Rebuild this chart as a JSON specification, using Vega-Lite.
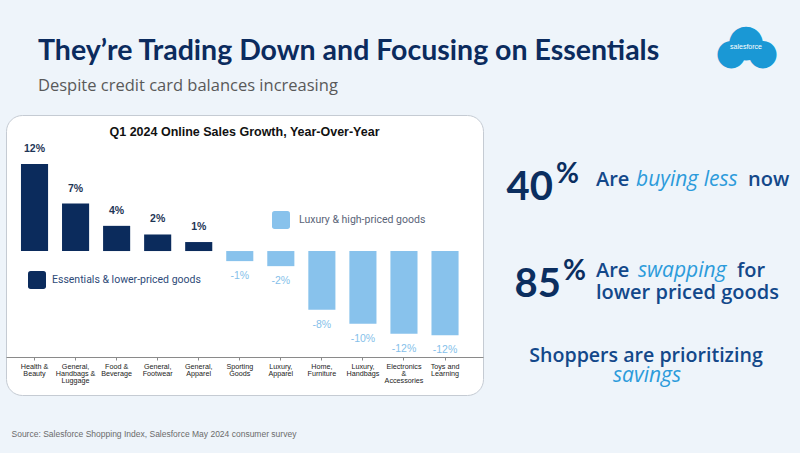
{
  "$schema": "https://vega.github.io/schema/vega-lite/v6.json",
  "background": "#EEF4FA",
  "padding": {"left": 5, "top": 20, "right": 0, "bottom": 0},
  "autosize": {"type": "pad"},
  "bounds": "flush",
  "spacing": 0,
  "datasets": {
    "growth": [
      {"category": "Health & Beauty", "group": "Essentials & lower-priced goods", "growth": 12.1, "label": "12%"},
      {"category": "General, Handbags & Luggage", "group": "Essentials & lower-priced goods", "growth": 6.6, "label": "7%"},
      {"category": "Food & Beverage", "group": "Essentials & lower-priced goods", "growth": 3.5, "label": "4%"},
      {"category": "General, Footwear", "group": "Essentials & lower-priced goods", "growth": 2.3, "label": "2%"},
      {"category": "General, Apparel", "group": "Essentials & lower-priced goods", "growth": 1.25, "label": "1%"},
      {"category": "Sporting Goods", "group": "Luxury & high-priced goods", "growth": -1.4, "label": "-1%"},
      {"category": "Luxury, Apparel", "group": "Luxury & high-priced goods", "growth": -2.1, "label": "-2%"},
      {"category": "Home, Furniture", "group": "Luxury & high-priced goods", "growth": -8.15, "label": "-8%"},
      {"category": "Luxury, Handbags", "group": "Luxury & high-priced goods", "growth": -10.1, "label": "-10%"},
      {"category": "Electronics & Accessories", "group": "Luxury & high-priced goods", "growth": -11.5, "label": "-12%"},
      {"category": "Toys and Learning", "group": "Luxury & high-priced goods", "growth": -11.7, "label": "-12%"}
    ],
    "callouts": [
      {"id": "heading", "text": "They’re Trading Down and Focusing on Essentials"},
      {"id": "subheading", "text": "Despite credit card balances increasing"},
      {"id": "cloudA", "text": "●●"},
      {"id": "cloudB", "text": "●"},
      {"id": "brand", "text": "salesforce"},
      {"id": "n1", "text": "40"},
      {"id": "p1", "text": "%"},
      {"id": "a1", "text": "Are"},
      {"id": "e1", "text": "buying less"},
      {"id": "t1", "text": "now"},
      {"id": "n2", "text": "85"},
      {"id": "p2", "text": "%"},
      {"id": "a2", "text": "Are"},
      {"id": "e2", "text": "swapping"},
      {"id": "t2", "text": "for"},
      {"id": "l2", "text": "lower priced goods"},
      {"id": "s3", "text": "Shoppers are prioritizing"},
      {"id": "e3", "text": "savings"}
    ]
  },
  "hconcat": [
    {
      "width": 477,
      "height": 280,
      "view": {"fill": "white", "stroke": "#C5CBD3", "strokeWidth": 1, "cornerRadius": 16},
      "title": {
        "text": "Q1 2024 Online Sales Growth, Year-Over-Year",
        "font": "Liberation Sans",
        "fontSize": 12.5,
        "fontWeight": "bold",
        "color": "#111111",
        "anchor": "middle",
        "offset": -29,
        "baseline": "middle"
      },
      "data": {"name": "growth"},
      "encoding": {
        "x": {
          "field": "category",
          "type": "nominal",
          "sort": null,
          "scale": {"paddingInner": 0.34, "paddingOuter": 0.48, "align": 0.38},
          "axis": {
            "orient": "bottom",
            "offset": -38,
            "domainColor": "#8A8A8A",
            "tickColor": "#8A8A8A",
            "tickSize": 3,
            "labelPadding": 2,
            "labelAngle": 0,
            "labelFont": "Liberation Sans",
            "labelFontSize": 7.2,
            "labelColor": "#222222",
            "labelLineHeight": 7,
            "labelOverlap": false,
            "labelExpr": "split(replace(replace(replace(replace(replace(datum.label, /, /g, ',|'), / & /g, ' &|'), /^Electronics &/, 'Electronics|&'), /^Sporting /, 'Sporting|'), /and /, 'and|'), '|')",
            "title": "Source: Salesforce Shopping Index, Salesforce May 2024 consumer survey",
            "titleFont": "Liberation Sans",
            "titleFontSize": 8.5,
            "titleFontWeight": "normal",
            "titleColor": "#6B6B6B",
            "titleAnchor": "start",
            "titleAlign": "left",
            "titleX": 5,
            "titleY": 76,
            "titleBaseline": "middle"
          }
        },
        "y": {
          "field": "growth",
          "type": "quantitative",
          "scale": {"domain": [-20, 18.9], "nice": false},
          "axis": null
        }
      },
      "layer": [
        {
          "transform": [{"filter": "datum.group === 'Essentials & lower-priced goods'"}],
          "mark": {"type": "bar"},
          "encoding": {
            "color": {
              "field": "group",
              "type": "nominal",
              "scale": {"domain": ["Essentials & lower-priced goods"], "range": ["#0B2B5C"]},
              "legend": {
                "title": null,
                "orient": "none",
                "legendX": 22,
                "legendY": 156,
                "padding": 0,
                "symbolType": "M -0.7 -1 L 0.7 -1 Q 1 -1 1 -0.7 L 1 0.7 Q 1 1 0.7 1 L -0.7 1 Q -1 1 -1 0.7 L -1 -0.7 Q -1 -1 -0.7 -1 Z",
                "symbolSize": 324,
                "symbolStrokeWidth": 0,
                "symbolOpacity": 1,
                "labelFont": "Roboto",
                "labelFontSize": 10.5,
                "labelLimit": 300,
                "labelColor": "#2E4A78",
                "labelOffset": 6
              }
            }
          }
        },
        {
          "transform": [{"filter": "datum.group === 'Luxury & high-priced goods'"}],
          "mark": {"type": "bar"},
          "encoding": {
            "color": {
              "field": "group",
              "type": "nominal",
              "scale": {"domain": ["Luxury & high-priced goods"], "range": ["#88C2EC"]},
              "legend": {
                "title": null,
                "orient": "none",
                "legendX": 266,
                "legendY": 96,
                "padding": 0,
                "symbolType": "M -0.7 -1 L 0.7 -1 Q 1 -1 1 -0.7 L 1 0.7 Q 1 1 0.7 1 L -0.7 1 Q -1 1 -1 0.7 L -1 -0.7 Q -1 -1 -0.7 -1 Z",
                "symbolSize": 324,
                "symbolStrokeWidth": 0,
                "symbolOpacity": 1,
                "labelFont": "Roboto",
                "labelFontSize": 10.5,
                "labelLimit": 300,
                "labelColor": "#5A6478",
                "labelOffset": 9
              }
            }
          }
        },
        {
          "transform": [{"filter": "datum.growth > 0"}],
          "mark": {"type": "text", "font": "Liberation Sans", "fontSize": 10.5, "fontWeight": "bold", "color": "#1E3556", "baseline": "middle", "dy": -15},
          "encoding": {"text": {"field": "label"}}
        },
        {
          "transform": [{"filter": "datum.growth < 0"}],
          "mark": {"type": "text", "font": "Liberation Sans", "fontSize": 10.5, "color": "#86BFEA", "baseline": "middle", "dy": 15},
          "encoding": {"text": {"field": "label"}}
        }
      ],
      "resolve": {"scale": {"color": "independent"}}
    },
    {
      "width": 318,
      "height": 338,
      "view": {"fill": null, "stroke": null},
      "data": {"name": "callouts"},
      "layer": [
        {
          "transform": [{"filter": "datum.id === 'heading'"}],
          "mark": {"type": "text", "font": "Lato", "fontSize": 28.5, "fontWeight": "bold", "color": "#0B2B5E", "align": "left", "baseline": "alphabetic", "dx": -604, "dy": -224},
          "encoding": {"text": {"field": "text"}}
        },
        {
          "transform": [{"filter": "datum.id === 'subheading'"}],
          "mark": {"type": "text", "font": "Open Sans", "fontSize": 16.5, "color": "#595959", "align": "left", "baseline": "alphabetic", "dx": -604, "dy": -193},
          "encoding": {"text": {"field": "text"}}
        },
        {
          "transform": [{"filter": "datum.id === 'cloudA'"}],
          "mark": {"type": "text", "font": "DejaVu Sans", "fontSize": 36, "color": "#1A98D5", "align": "center", "baseline": "middle", "dx": 105, "dy": -231},
          "encoding": {"text": {"field": "text"}}
        },
        {
          "transform": [{"filter": "datum.id === 'cloudB'"}],
          "mark": {"type": "text", "font": "DejaVu Sans", "fontSize": 44, "color": "#1A98D5", "align": "center", "baseline": "middle", "dx": 104, "dy": -242},
          "encoding": {"text": {"field": "text"}}
        },
        {
          "transform": [{"filter": "datum.id === 'brand'"}],
          "mark": {"type": "text", "font": "Liberation Sans", "fontSize": 7, "color": "white", "align": "center", "baseline": "middle", "dx": 104, "dy": -237},
          "encoding": {"text": {"field": "text"}}
        },
        {
          "transform": [{"filter": "datum.id === 'n1'"}],
          "mark": {"type": "text", "font": "Lato", "fontSize": 40, "fontWeight": "bold", "color": "#0B2E5F", "align": "right", "baseline": "alphabetic", "dx": -89, "dy": -84},
          "encoding": {"text": {"field": "text"}}
        },
        {
          "transform": [{"filter": "datum.id === 'p1'"}],
          "mark": {"type": "text", "font": "Lato", "fontSize": 28, "fontWeight": "bold", "color": "#0B2E5F", "align": "left", "baseline": "alphabetic", "dx": -86, "dy": -101},
          "encoding": {"text": {"field": "text"}}
        },
        {
          "transform": [{"filter": "datum.id === 'a1'"}],
          "mark": {"type": "text", "font": "Open Sans", "fontSize": 20, "fontWeight": 600, "color": "#13488A", "align": "left", "baseline": "alphabetic", "dx": -46, "dy": -98},
          "encoding": {"text": {"field": "text"}}
        },
        {
          "transform": [{"filter": "datum.id === 'e1'"}],
          "mark": {"type": "text", "font": "Open Sans", "fontSize": 21, "fontStyle": "italic", "color": "#2C9BDB", "align": "left", "baseline": "alphabetic", "dx": -6, "dy": -98},
          "encoding": {"text": {"field": "text"}}
        },
        {
          "transform": [{"filter": "datum.id === 't1'"}],
          "mark": {"type": "text", "font": "Open Sans", "fontSize": 20, "fontWeight": 600, "color": "#13488A", "align": "left", "baseline": "alphabetic", "dx": 106, "dy": -98},
          "encoding": {"text": {"field": "text"}}
        },
        {
          "transform": [{"filter": "datum.id === 'n2'"}],
          "mark": {"type": "text", "font": "Lato", "fontSize": 40, "fontWeight": "bold", "color": "#0B2E5F", "align": "right", "baseline": "alphabetic", "dx": -81, "dy": 13},
          "encoding": {"text": {"field": "text"}}
        },
        {
          "transform": [{"filter": "datum.id === 'p2'"}],
          "mark": {"type": "text", "font": "Lato", "fontSize": 28, "fontWeight": "bold", "color": "#0B2E5F", "align": "left", "baseline": "alphabetic", "dx": -79, "dy": -4},
          "encoding": {"text": {"field": "text"}}
        },
        {
          "transform": [{"filter": "datum.id === 'a2'"}],
          "mark": {"type": "text", "font": "Open Sans", "fontSize": 20, "fontWeight": 600, "color": "#13488A", "align": "left", "baseline": "alphabetic", "dx": -46, "dy": -7},
          "encoding": {"text": {"field": "text"}}
        },
        {
          "transform": [{"filter": "datum.id === 'e2'"}],
          "mark": {"type": "text", "font": "Open Sans", "fontSize": 21, "fontStyle": "italic", "color": "#2C9BDB", "align": "left", "baseline": "alphabetic", "dx": -4, "dy": -7},
          "encoding": {"text": {"field": "text"}}
        },
        {
          "transform": [{"filter": "datum.id === 't2'"}],
          "mark": {"type": "text", "font": "Open Sans", "fontSize": 20, "fontWeight": 600, "color": "#13488A", "align": "left", "baseline": "alphabetic", "dx": 95, "dy": -7},
          "encoding": {"text": {"field": "text"}}
        },
        {
          "transform": [{"filter": "datum.id === 'l2'"}],
          "mark": {"type": "text", "font": "Open Sans", "fontSize": 20, "fontWeight": 600, "color": "#13488A", "align": "left", "baseline": "alphabetic", "dx": -46, "dy": 15},
          "encoding": {"text": {"field": "text"}}
        },
        {
          "transform": [{"filter": "datum.id === 's3'"}],
          "mark": {"type": "text", "font": "Open Sans", "fontSize": 19.6, "fontWeight": 600, "color": "#13488A", "align": "center", "baseline": "alphabetic", "dx": 4, "dy": 78},
          "encoding": {"text": {"field": "text"}}
        },
        {
          "transform": [{"filter": "datum.id === 'e3'"}],
          "mark": {"type": "text", "font": "Open Sans", "fontSize": 21, "fontStyle": "italic", "color": "#2C9BDB", "align": "center", "baseline": "alphabetic", "dx": 5, "dy": 98},
          "encoding": {"text": {"field": "text"}}
        }
      ]
    }
  ],
  "config": {"view": {"stroke": null}}
}
